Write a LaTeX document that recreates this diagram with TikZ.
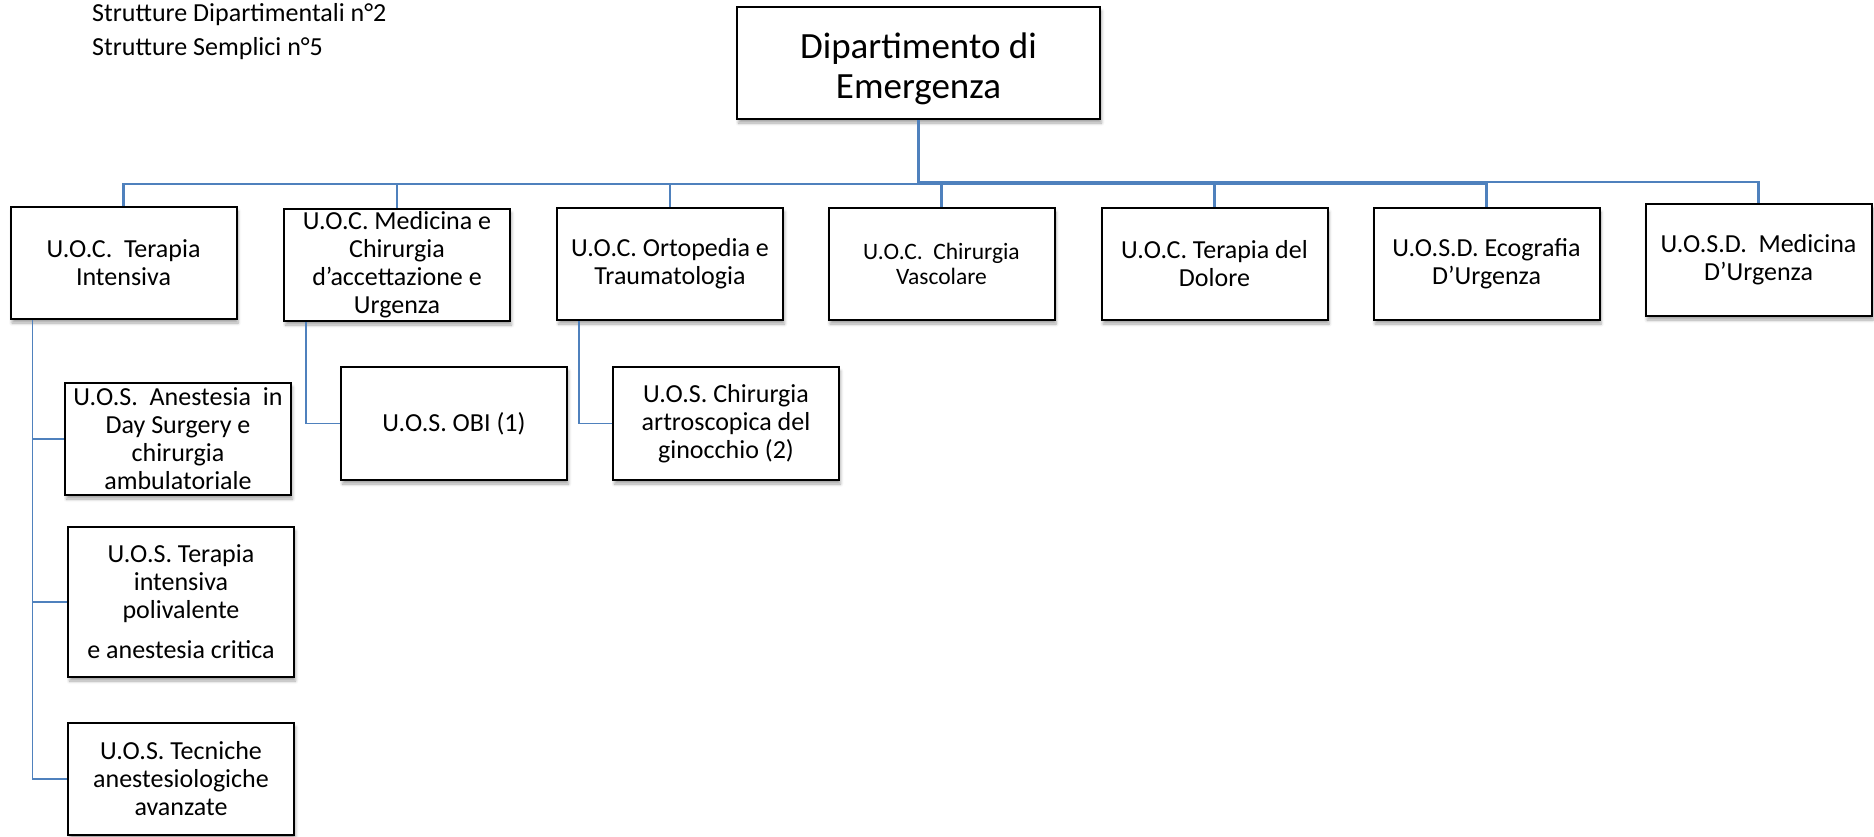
\documentclass[tikz,border=0pt]{standalone}
\usepackage{fontspec}
\setmainfont{Carlito}
\usetikzlibrary{shadows.blur}
\definecolor{linkblue}{RGB}{79,129,189}
\begin{document}
\begin{tikzpicture}[x=1pt,y=-1pt,
  box/.style={draw=black, line width=2pt, fill=white, rectangle,
    minimum width=226pt, minimum height=112pt, inner sep=0pt, align=center,
    font=\fontsize{26}{28}\selectfont,
    blur shadow={shadow xshift=1.5pt, shadow yshift=-4pt, shadow opacity=35, shadow blur steps=6, shadow blur radius=3pt}},
  bus/.style={draw=linkblue, line width=2.6pt},
  subline/.style={draw=linkblue, line width=1.8pt},
  note/.style={anchor=base west, inner sep=0pt, font=\fontsize{26}{32}\selectfont}]
\useasboundingbox (0,0) rectangle (1874,836);

\node[note] (n1) at (92,21) {Strutture Dipartimentali n°2};
\node[note] (n2) at (92,55) {Strutture Semplici n°5};

\node[box, minimum width=363pt, font=\fontsize{37}{40}\selectfont] (dept) at (918.5,63) {\rule{0pt}{38pt}Dipartimento di\\Emergenza};

\node[box] (c1) at (123.5,263) {U.O.C.\ \ Terapia\\Intensiva};
\node[box] (c2) at (397,265) {U.O.C. Medicina e\\Chirurgia\\d’accettazione e\\Urgenza};
\node[box] (c3) at (670,264) {U.O.C. Ortopedia e\\Traumatologia};
\node[box, font=\fontsize{23.5}{25}\selectfont] (c4) at (941.5,264) {U.O.C.\ \ Chirurgia\\Vascolare};
\node[box] (c5) at (1214.5,264) {U.O.C. Terapia del\\Dolore};
\node[box] (c6) at (1486.5,264) {U.O.S.D. Ecografia\\D’Urgenza};
\node[box] (c7) at (1758.5,260) {U.O.S.D.\ \ Medicina\\D’Urgenza};

\node[box] (s1) at (178,439) {U.O.S.\ \ Anestesia\ \ in\\Day Surgery e\\chirurgia\\ambulatoriale};
\node[box, minimum height=150pt] (s2) at (181,602) {U.O.S. Terapia\\intensiva\\polivalente\\[12pt]e anestesia critica};
\node[box] (s3) at (181,779) {U.O.S. Tecniche\\anestesiologiche\\avanzate};
\node[box, minimum height=113pt] (obi) at (454,423.5) {U.O.S. OBI (1)};
\node[box, minimum height=113pt] (art) at (726,423.5) {U.O.S. Chirurgia\\artroscopica del\\ginocchio (2)};

\foreach \c in {c1,c2,c3,c4,c5,c6}
  \draw[bus] (dept.south) -- ++(0,64) -| (\c.north);
\draw[bus] (dept.south) -- ++(0,62) -| (c7.north);

\draw[subline] ([xshift=23pt]c1.south west) |- (s1.west);
\draw[subline] ([xshift=23pt]c1.south west) |- (s2.west);
\draw[subline] ([xshift=23pt]c1.south west) |- (s3.west);
\draw[subline] ([xshift=23pt]c2.south west) |- (obi.west);
\draw[subline] ([xshift=23pt]c3.south west) |- (art.west);
\end{tikzpicture}
\end{document}
